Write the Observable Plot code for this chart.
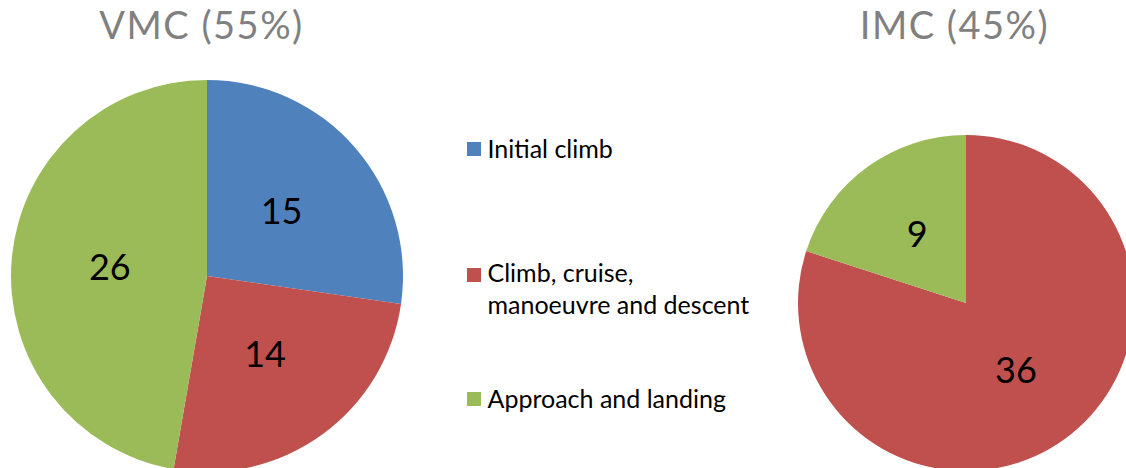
<!DOCTYPE html>
<html>
<head>
<meta charset="utf-8">
<script src="https://cdn.jsdelivr.net/npm/d3@7"></script>
<script src="https://cdn.jsdelivr.net/npm/@observablehq/plot@0.6"></script>
<style>
  html, body { margin: 0; padding: 0; background: #ffffff; }
  .pie-title text { letter-spacing: 1.5px; }
</style>
</head>
<body>
<div id="chart"></div>
<script>
// ---- data ----
const categories = ["Initial climb", "Climb, cruise, manoeuvre and descent", "Approach and landing"];
const legendLines = [["Initial climb"], ["Climb, cruise,", "manoeuvre and descent"], ["Approach and landing"]];
const colors = ["#4F81BD", "#C0504D", "#9BBB59"];
const pieNames = ["VMC", "IMC"];
const pieTitles = ["VMC (55%)", "IMC (45%)"];
const vmcValues = [15, 14, 26];
const imcValues = [0, 36, 9];

// ---- layout (pixels) ----
const W = 1126, H = 468;
const layout = {
  VMC: {cx: 207, cy: 276, r: 196, tx: 201, ty: 38},
  IMC: {cx: 966, cy: 303, r: 168, tx: 954, ty: 38}
};
const legendLayout = {sx1: 467, sx2: 481, tx: 487, squareTops: [142, 268, 392], baselines: [[157], [281, 313], [407]]};

// ---- derived tables ----
const pie = d3.pie().sort(null).value(d => d.value);
const slices = [];
[vmcValues, imcValues].forEach((vals, pi) => {
  const rows = categories.map((c, i) => ({pie: pieNames[pi], category: c, value: vals[i]}));
  pie(rows).forEach(a => slices.push({...a.data, startAngle: a.startAngle, endAngle: a.endAngle, padAngle: 0}));
});
const labelRows = slices.filter(d => d.value > 0).map(d => {
  const L = layout[d.pie];
  const c = d3.arc().innerRadius(0).outerRadius(L.r).centroid(d);
  return {...d, lx: L.cx + c[0], ly: L.cy + c[1]};
});
const titleRows = pieNames.map((p, i) => ({title: pieTitles[i], x: layout[p].tx, y: layout[p].ty}));
const legendSquares = categories.map((c, i) => ({category: c, y1: legendLayout.squareTops[i], y2: legendLayout.squareTops[i] + 14}));
const legendText = [];
legendLines.forEach((lines, i) => lines.forEach((t, j) => legendText.push({text: t, y: legendLayout.baselines[i][j]})));

// custom pie mark using Plot's scales
function pieMark(rows) {
  return (index, scales) => {
    const g = d3.create("svg:g");
    for (const d of rows) {
      const L = layout[d.pie];
      const arc = d3.arc().innerRadius(0).outerRadius(L.r);
      if (d.value <= 0) continue;
      g.append("path")
        .attr("d", arc(d))
        .attr("transform", `translate(${scales.x(L.cx)},${scales.y(L.cy)})`)
        .attr("fill", scales.color(d.category));
    }
    return g.node();
  };
}

const chart = Plot.plot({
  width: W,
  height: H,
  margin: 0,
  x: {domain: [0, W], range: [0, W], axis: null},
  y: {domain: [0, H], range: [0, H], axis: null},
  color: {domain: categories, range: colors},
  style: {fontFamily: "Lato, 'Open Sans', sans-serif", background: "#ffffff", overflow: "hidden"},
  marks: [
    pieMark(slices),
    Plot.text(labelRows, {x: "lx", y: "ly", text: d => String(d.value), fontSize: 36, fill: "#000000", lineAnchor: "middle", textAnchor: "middle"}),
    Plot.text(titleRows, {x: "x", y: "y", text: "title", fontSize: 38, fill: "#808080", lineAnchor: "bottom", textAnchor: "middle", className: "pie-title"}),
    Plot.rect(legendSquares, {x1: () => legendLayout.sx1, x2: () => legendLayout.sx2, y1: "y1", y2: "y2", fill: "category"}),
    Plot.text(legendText, {x: () => legendLayout.tx, y: "y", text: "text", fontSize: 25, fill: "#000000", lineAnchor: "bottom", textAnchor: "start"})
  ]
});
document.getElementById("chart").appendChild(chart);
</script>
</body>
</html>
